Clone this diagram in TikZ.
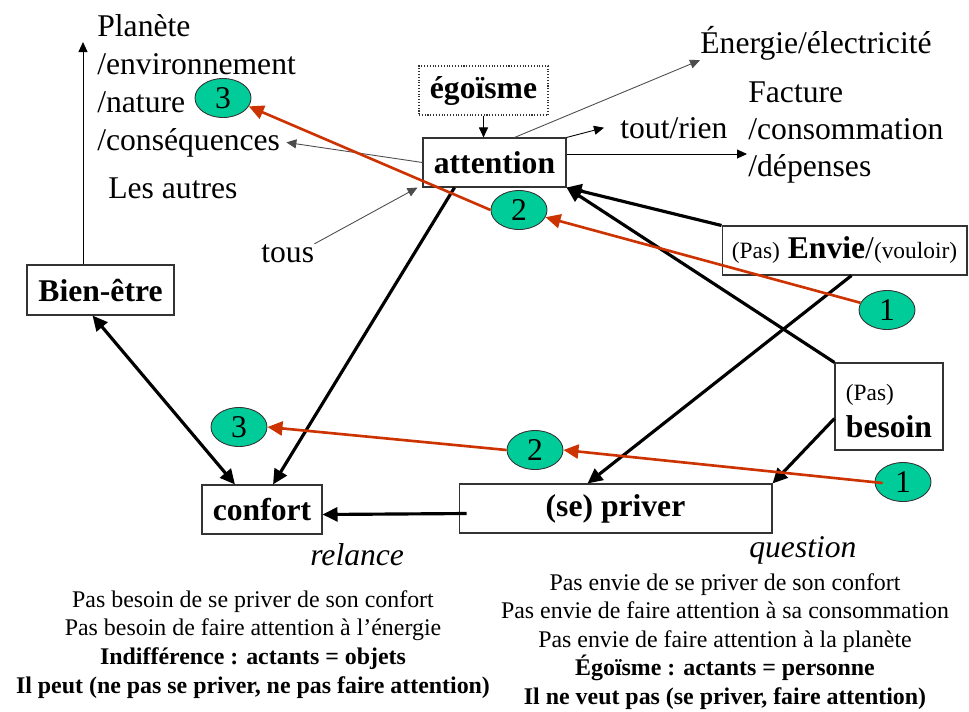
\documentclass[tikz,border=0pt]{standalone}
\usepackage{fontspec}
\setmainfont{Liberation Serif}
\usepackage{xcolor}
\usetikzlibrary{shapes.geometric,arrows.meta,calc}
\definecolor{vert}{RGB}{0,204,153}
\definecolor{rouge}{RGB}{204,51,0}
\newcommand\grand{\fontsize{18}{21}\selectfont}
\newcommand\petit{\fontsize{13.3}{16}\selectfont}
\newcommand\moyen{\fontsize{13.6}{16.3}\selectfont}
\begin{document}
\begin{tikzpicture}[x=0.02cm,y=-0.02cm,>={Triangle[length=0.3cm,width=0.28cm]}]
\tikzstyle{every node}=[inner sep=0pt,font=\grand]
\tikzstyle{boite}=[draw=black!80,line width=0.6pt,font=\grand\bfseries]
\tikzstyle{pastille}=[ellipse,draw=black!80,line width=0.5pt,fill=vert,minimum width=1.12cm,minimum height=0.78cm]
\tikzstyle{fin}=[black,line width=0.5pt,-{Triangle[length=0.2cm,width=0.18cm]}]
\tikzstyle{epais}=[black,line width=1.8pt]
\tikzstyle{flecherouge}=[rouge,line width=1.5pt,->]
\useasboundingbox (0,0) rectangle (969,711);
\node[anchor=base west] (planete) at (97,36) {Planète};
\node[anchor=base west] (environnement) at (97,74) {/environnement};
\node[anchor=base west] (nature) at (97,112) {/nature};
\node[anchor=base west] (consequences) at (97,150) {/conséquences};
\node[anchor=base west] (autres) at (108,198) {Les autres};
\node[anchor=base west] (tous) at (261,262) {tous};
\node[anchor=base west] (energie) at (700,53) {Énergie/électricité};
\node[anchor=base west] (facture) at (748,102) {Facture};
\node[anchor=base west] (consommation) at (748,139) {/consommation};
\node[anchor=base west] (depenses) at (748,176) {/dépenses};
\node[anchor=base west] (toutrien) at (620,138) {tout/rien};
\node[anchor=base west,font=\grand\itshape] (relance) at (310,565) {relance};
\node[anchor=base west,font=\grand\itshape] (question) at (749,557) {question};
\node[boite,densely dotted,minimum width=2.58cm,minimum height=0.98cm] (egoisme) at (483.5,90.5) {égoïsme};
\node[boite,minimum width=2.86cm,minimum height=0.98cm] (attention) at (494.5,162.5) {attention};
\node[boite,minimum width=2.94cm,minimum height=1cm] (bienetre) at (100.5,290) {Bien-être};
\node[boite,minimum width=2.4cm,minimum height=0.98cm] (confort) at (262,509.5) {confort};
\node[boite,minimum width=6.26cm,minimum height=0.98cm] (priver) at (615.5,508.5) {(se) priver};
\node[boite,font=\grand,minimum width=4.9cm,minimum height=0.98cm] (envie) at (844.5,250.5) {{\petit (Pas)} \textbf{Envie}/{\petit (vouloir)}};
\node[boite,font=\grand,align=left,minimum width=2.16cm,minimum height=1.74cm] (besoin) at (889,406.5) {\rule{0pt}{0.5cm}{\petit (Pas)}\\\textbf{besoin}};
\node[anchor=base,font=\moyen] (gauche1) at (253,607) {Pas besoin de se priver de son confort};
\node[anchor=base,font=\moyen] (gauche2) at (253,635) {Pas besoin de faire attention à l’énergie};
\node[anchor=base,font=\moyen\bfseries] (gauche3) at (253,664) {Indifférence : actants = objets};
\node[anchor=base,font=\moyen\bfseries] (gauche4) at (253,693) {Il peut (ne pas se priver, ne pas faire attention)};
\node[anchor=base,font=\moyen] (droite1) at (725,590) {Pas envie de se priver de son confort};
\node[anchor=base,font=\moyen] (droite2) at (725,618) {Pas envie de faire attention à sa consommation};
\node[anchor=base,font=\moyen] (droite3) at (725,647) {Pas envie de faire attention à la planète};
\node[anchor=base,font=\moyen\bfseries] (droite4) at (725,675) {Égoïsme : actants = personne};
\node[anchor=base,font=\moyen\bfseries] (droite5) at (725,704) {Il ne veut pas (se priver, faire attention)};
\coordinate (haut) at (83,42);
\coordinate (versfacture) at (747,154);
\draw[fin] (bienetre.north -| haut) -- (haut);
\draw[fin] (egoisme.south) -- (egoisme.south |- attention.north);
\draw[fin,black!70] (attention.west) -- ($(consequences.east)+(6,0)$);
\draw[fin,black!70] (tous.north east) -- ($(attention.south west)+(-5,0)$);
\draw[fin,black!70] ($(attention.north)+(20,0)$) -- (energie.south west);
\draw[fin] (attention.north east) -- ($(toutrien.west)+(-16,0)$);
\draw[fin] (attention.east |- versfacture) -- (versfacture);
\draw[epais,->] ($(attention.south)+(-40,0)$) -- ($(confort.north)+(11,0)$);
\draw[epais,<->] ($(bienetre.south)+(-8,0)$) -- ($(confort.north)+(-27,0)$);
\draw[epais,->] (envie.north west) -- (attention.south east);
\draw[epais,->] (besoin.north west) -- (attention.south east);
\draw[epais,->] ($(envie.south)+(7,0)$) -- ($(priver.north)+(-28,0)$);
\draw[epais,->] ($(besoin.west)+(0,12)$) -- (priver.north east);
\draw[epais,->] ($(priver.west)+(8,5)$) -- ($(confort.east)+(0,5)$);
\node[pastille] (p3a) at (223,98) {3};
\node[pastille] (p2a) at (519,210) {2};
\node[pastille] (p1a) at (887,310) {1};
\node[pastille] (p3b) at (239,427) {3};
\node[pastille] (p2b) at (535,450) {2};
\node[pastille] (p1b) at (903,482) {1};
\draw[flecherouge] (p1a) -- (p2a);
\draw[flecherouge] (p2a.west) -- (p3a.-18);
\draw[flecherouge] ($(p1b.west)+(8,1)$) -- (p2b.east);
\draw[flecherouge] (p2b.west) -- (p3b.east);
\end{tikzpicture}
\end{document}
